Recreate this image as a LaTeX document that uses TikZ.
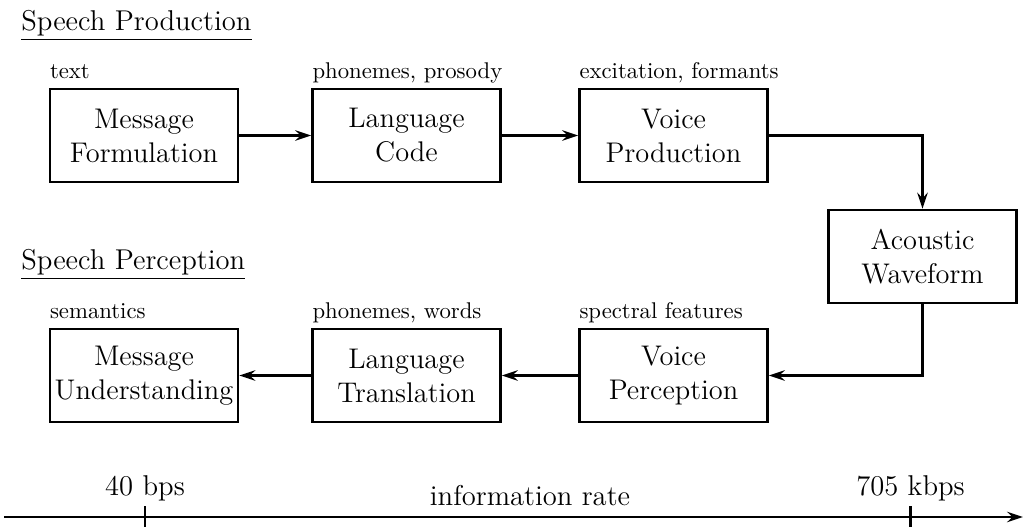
\documentclass[tikz,border=0pt]{standalone}
\usetikzlibrary{arrows.meta}
\begin{document}
\begin{tikzpicture}[x=0.44pt, y=-0.44pt, line width=1.2pt,
  blk/.style={draw, align=center, font=\fontsize{12.5}{15}\selectfont, minimum width=82.7pt, minimum height=40.9pt, inner xsep=1pt},
  lbl/.style={anchor=base west, inner sep=0pt},
  ttl/.style={anchor=base west, inner sep=0pt, font=\fontsize{12.6}{15}\selectfont},
  flow/.style={-{Stealth[length=7pt,width=4.6pt,inset=2.4pt]}}]
\useasboundingbox (0,0) rectangle (1023,527);
% production
\node[ttl] (prodT) at (20,31) {\underline{Speech Production}};
\node[blk] (mf) at (144,135.5) {Message\\Formulation};
\node[blk] (lc) at (406.5,135.5) {Language\\Code};
\node[blk] (vp) at (673.5,135.5) {Voice\\Production};
\node[lbl] (mfL) at ([yshift=4pt]mf.north west) {text};
\node[lbl] (lcL) at ([yshift=4pt]lc.north west) {phonemes, prosody};
\node[lbl] (vpL) at ([yshift=4pt]vp.north west) {excitation, formants};
\node[blk] (aw) at (922.5,256.5) {Acoustic\\Waveform};
% perception
\node[ttl] (percT) at (20,270) {\underline{Speech Perception}};
\node[blk] (mu) at (144,375.5) {Message\\Understanding};
\node[blk] (lt) at (406.5,375.5) {Language\\Translation};
\node[blk] (vper) at (673.5,375.5) {Voice\\Perception};
\node[lbl] (muL) at ([yshift=4pt]mu.north west) {semantics};
\node[lbl] (ltL) at ([yshift=4pt]lt.north west) {phonemes, words};
\node[lbl] (vperL) at ([yshift=4pt]vper.north west) {spectral features};

\draw[flow] (mf) -- (lc);
\draw[flow] (lc) -- (vp);
\draw[flow] (vp) -| (aw);
\draw[flow] (aw) |- (vper);
\draw[flow] (vper) -- (lt);
\draw[flow] (lt) -- (mu);

% rate axis
\coordinate (axL) at (4,517);
\coordinate (axR) at (1023,517);
\coordinate (lo) at (145,517);
\coordinate (hi) at (910.5,517);
\draw[flow] (axL) -- (axR);
\draw ([yshift=4.8pt]lo) -- ([yshift=-4.4pt]lo);
\draw ([yshift=4.8pt]hi) -- ([yshift=-4.4pt]hi);
\node[font=\fontsize{12.6}{15}\selectfont, anchor=base] (loL) at (145,496) {40 bps};
\node[font=\fontsize{12.6}{15}\selectfont, anchor=base] (hiL) at (910.5,496) {705 kbps};
\node[font=\fontsize{12.6}{15}\selectfont, anchor=base] (rate) at (530,506) {information rate};
\end{tikzpicture}
\end{document}
